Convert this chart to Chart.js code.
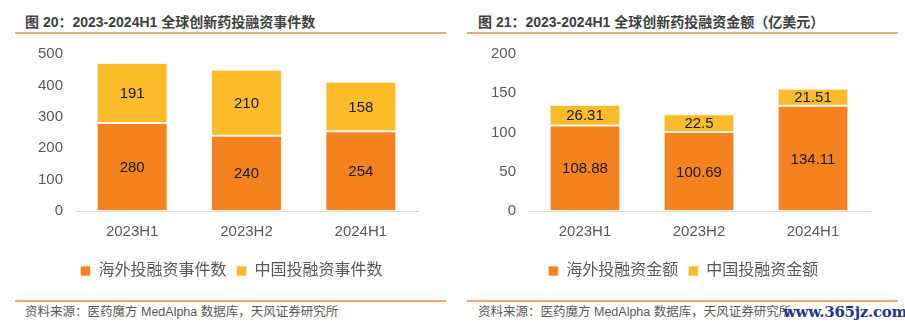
<!DOCTYPE html>
<html>
<head>
<meta charset="utf-8">
<script src="https://cdn.jsdelivr.net/npm/chart.js@4/dist/chart.umd.min.js"></script>
<style>
  html, body { margin: 0; padding: 0; background: #fff; }
  body { width: 905px; height: 329px; position: relative; overflow: hidden;
         font-family: "Liberation Sans", "Noto Sans CJK SC", sans-serif; }
  .title { position: absolute; top: 13px; font-size: 14px; font-weight: bold; color: #404040;
           white-space: nowrap; line-height: 18px; }
  .rule { position: absolute; height: 2px; background: #F4A86E; }
  .source { position: absolute; top: 304px; font-size: 12.5px; color: #595959; white-space: nowrap;
            line-height: 16px; }
  .mark { position: absolute; left: 783px; top: 302px; font-family: "DejaVu Serif", serif; font-weight: bold;
          font-size: 15px; color: #1F3A8A; white-space: nowrap; line-height: 20px; letter-spacing: -0.3px; }
  canvas { position: absolute; }
</style>
</head>
<body>
<div class="title" style="left:25px">图 20：2023-2024H1 全球创新药投融资事件数</div>
<div class="title" style="left:478px">图 21：2023-2024H1 全球创新药投融资金额（亿美元）</div>
<div class="rule" style="left:15px; width:431px; top:32px"></div>
<div class="rule" style="left:467px; width:431px; top:32px"></div>
<div class="rule" style="left:15px; width:431px; top:300px"></div>
<div class="rule" style="left:467px; width:431px; top:300px"></div>
<div class="source" style="left:25px">资料来源：医药魔方 MedAlpha 数据库，天风证券研究所</div>
<div class="source" style="left:478px">资料来源：医药魔方 MedAlpha 数据库，天风证券研究所</div>
<div class="mark">www.365jz.com</div>

<div style="position:absolute; left:0; top:40px; width:450px; height:249px;"><canvas id="countChart"></canvas></div>
<div style="position:absolute; left:450px; top:40px; width:455px; height:249px;"><canvas id="amountChart"></canvas></div>

<script>
// Half-year periods
const periods = ['2023H1', '2023H2', '2024H1'];

// Number of financing events
const overseasEvents = [280, 240, 254];
const chinaEvents = [191, 210, 158];

// Financing amount, 100 million USD
const overseasAmount = [108.88, 100.69, 134.11];
const chinaAmount = [26.31, 22.5, 21.51];

// Y axis tick values
const countTicks = [0, 100, 200, 300, 400, 500];
const amountTicks = [0, 50, 100, 150, 200];

const ORANGE = '#F3821F';
const YELLOW = '#FBBB2B';
const GREY = '#595959';
const FONT = '"Liberation Sans", "Noto Sans CJK SC", sans-serif';

// Writes each segment's value in the middle of its bar segment
const segmentLabels = {
  id: 'segmentLabels',
  afterDatasetsDraw(chart) {
    const ctx = chart.ctx;
    ctx.save();
    ctx.fillStyle = '#1A1A1A';
    ctx.font = '15px ' + FONT;
    ctx.textAlign = 'center';
    ctx.textBaseline = 'middle';
    chart.data.datasets.forEach((ds, di) => {
      const meta = chart.getDatasetMeta(di);
      meta.data.forEach((bar, i) => {
        const mid = (bar.y + bar.base) / 2;
        ctx.fillText(String(ds.data[i]), bar.x, mid + 1);
      });
    });
    ctx.restore();
  }
};

// Moves the legend sideways so it sits under the plot rather than the canvas centre
const legendShift = {
  id: 'legendShift',
  afterLayout(chart, args, opts) {
    const lg = chart.legend;
    if (lg) { lg.left += opts.dx; lg.right += opts.dx; }
  }
};

function makeChart(id, labels, a, b, names, ticks, max, axisWidth, padRight, legendDx) {
  return new Chart(document.getElementById(id), {
    type: 'bar',
    data: {
      labels: labels,
      datasets: [
        { label: names[0], data: a, backgroundColor: ORANGE, borderColor: 'rgba(255,240,220,0.8)', borderWidth: 1, borderSkipped: false },
        { label: names[1], data: b, backgroundColor: YELLOW, borderColor: 'rgba(255,240,220,0.8)', borderWidth: 1, borderSkipped: false }
      ]
    },
    options: {
      responsive: true,
      maintainAspectRatio: false,
      animation: false,
      devicePixelRatio: 1,
      layout: { padding: { top: 14, left: 0, right: padRight, bottom: 0 } },
      datasets: { bar: { categoryPercentage: 1, barPercentage: 0.62 } },
      plugins: {
        tooltip: { enabled: false },
        legendShift: { dx: legendDx },
        legend: {
          position: 'bottom',
          labels: {
            boxWidth: 10, boxHeight: 10, padding: 10, color: GREY,
            font: { size: 16, family: FONT }
          }
        }
      },
      scales: {
        x: {
          stacked: true,
          grid: { display: false, drawTicks: false },
          border: { display: true, color: '#D9D9D9', width: 1 },
          ticks: { color: GREY, font: { size: 15, family: FONT }, padding: 12 },
          afterFit(scale) { scale.height = 42; scale.paddingLeft = 0; scale.paddingRight = 0; }
        },
        y: {
          stacked: true,
          min: 0,
          max: max,
          grid: { display: false, drawTicks: false },
          border: { display: false },
          afterBuildTicks(scale) { scale.ticks = ticks.map(v => ({ value: v })); },
          ticks: { color: GREY, font: { size: 15, family: FONT }, padding: 12 },
          afterFit(scale) { scale.width = axisWidth; scale.paddingTop = 0; scale.paddingBottom = 0; }
        }
      }
    },
    plugins: [segmentLabels, legendShift]
  });
}

makeChart('countChart', periods, overseasEvents, chinaEvents,
  ['海外投融资事件数', '中国投融资事件数'], countTicks, 500, 75, 32, 22.5);
makeChart('amountChart', periods, overseasAmount, chinaAmount,
  ['海外投融资金额', '中国投融资金额'], amountTicks, 200, 78, 35, 23.3);
</script>
</body>
</html>
